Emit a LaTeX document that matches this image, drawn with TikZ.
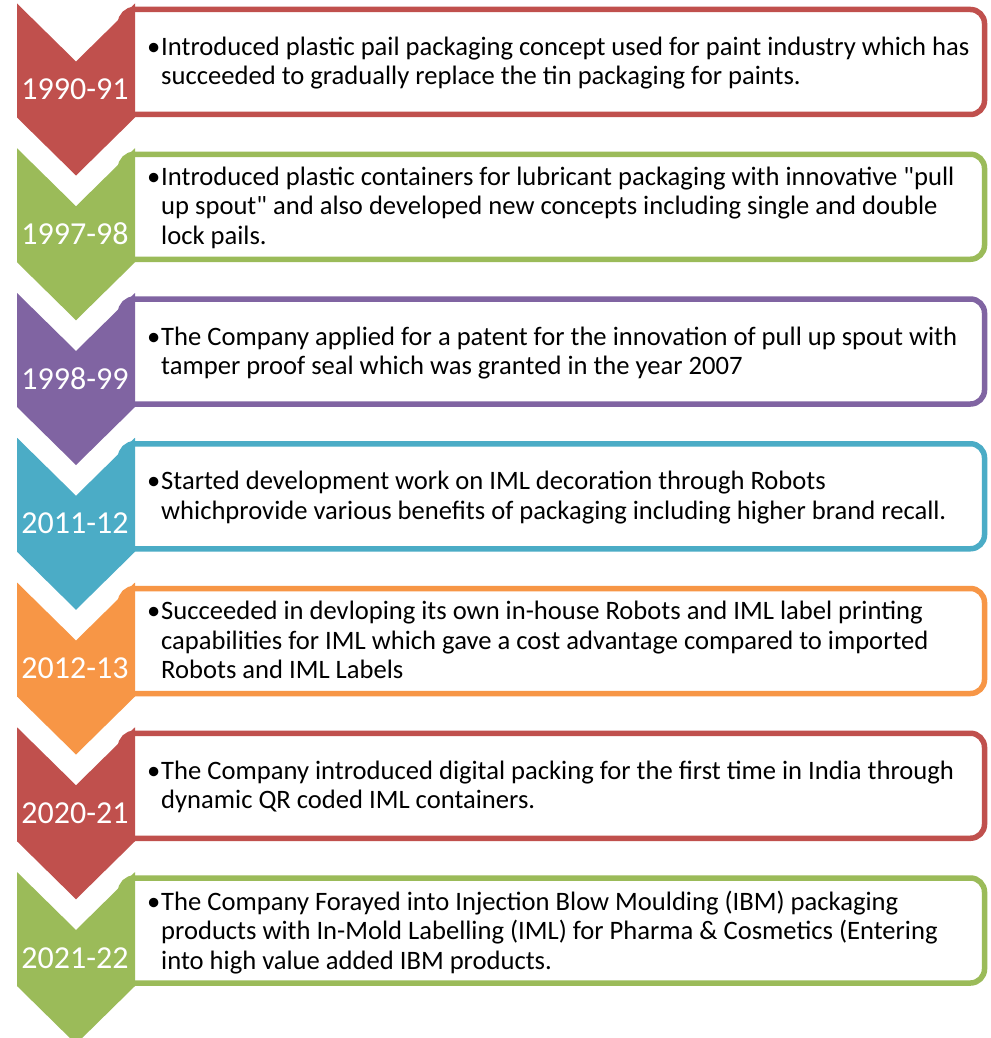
\documentclass[tikz,border=0pt]{standalone}
\usepackage{fontspec}
\setmainfont{Carlito}[Ligatures=TeXOff]
\definecolor{stagered}{HTML}{C0504D}
\definecolor{stagegreen}{HTML}{9BBB59}
\definecolor{stagepurple}{HTML}{8064A2}
\definecolor{stageteal}{HTML}{4BACC6}
\definecolor{stageorange}{HTML}{F79646}

\tikzset{
  stagebox/.style={draw, line width=5.5pt, rounded corners=14pt, fill=white,
    minimum width=864pt, minimum height=105pt, inner sep=0pt},
  yearlabel/.style={text=white, font=\fontsize{32}{32}\selectfont, anchor=base, inner sep=0pt},
  entry/.style={anchor=base west, inner sep=0pt},
}
\newcommand{\bul}{\makebox[14pt][l]{\textbullet}}
\newcommand{\ind}{\hspace*{14pt}}
\newcommand{\entrytext}[1]{\fontsize{26.6}{29.5}\selectfont\begin{tabular}[t]{@{}l@{}}#1\end{tabular}}

% one row of the timeline: #1 index, #2 colour, #3 year, #4 baseline offset of the text, #5 lines
\newcommand{\stagerow}[5]{%
  \pgfmathsetmacro{\rowtop}{3.5+144.75*#1}%
  \node[stagebox, draw=#2] (b#1) at (552.5,\rowtop+58.5) {};
  \fill[#2] (17,\rowtop) -- (76,\rowtop+58) -- (135,\rowtop) -- (135,\rowtop+114)
    -- (76,\rowtop+172) -- (17,\rowtop+114) -- cycle;
  \node[yearlabel] (y#1) at (75,\rowtop+96) {#3};
  \node[entry] (t#1) at (147,\rowtop+#4) {\entrytext{#5}};
}

\begin{document}
\begin{tikzpicture}[x=1pt,y=-1pt]
\useasboundingbox (0,0) rectangle (990,1038);
\fill[white] (0,0) rectangle (990,1038);

\stagerow{0}{stagered}{1990-91}{52}{\bul Introduced plastic pail packaging concept used for paint industry which has\\
  \ind succeeded to gradually replace the tin packaging for paints.}
\stagerow{1}{stagegreen}{1997-98}{37}{\bul Introduced plastic containers for lubricant packaging with innovative "pull\\
  \ind up spout" and also developed new concepts including single and double\\
  \ind lock pails.}
\stagerow{2}{stagepurple}{1998-99}{52}{\bul The Company applied for a patent for the innovation of pull up spout with\\
  \ind tamper proof seal which was granted in the year 2007}
\stagerow{3}{stageteal}{2011-12}{52}{\bul Started development work on IML decoration through Robots\\
  \ind whichprovide various benefits of packaging including higher brand recall.}
\stagerow{4}{stageorange}{2012-13}{37}{\bul Succeeded in devloping its own in-house Robots and IML label printing\\
  \ind capabilities for IML which gave a cost advantage compared to imported\\
  \ind Robots and IML Labels}
\stagerow{5}{stagered}{2020-21}{52}{\bul The Company introduced digital packing for the first time in India through\\
  \ind dynamic QR coded IML containers.}
\stagerow{6}{stagegreen}{2021-22}{38}{\bul The Company Forayed into Injection Blow Moulding (IBM) packaging\\
  \ind products with In-Mold Labelling (IML) for Pharma \& Cosmetics (Entering\\
  \ind into high value added IBM products.}
\end{tikzpicture}
\end{document}
